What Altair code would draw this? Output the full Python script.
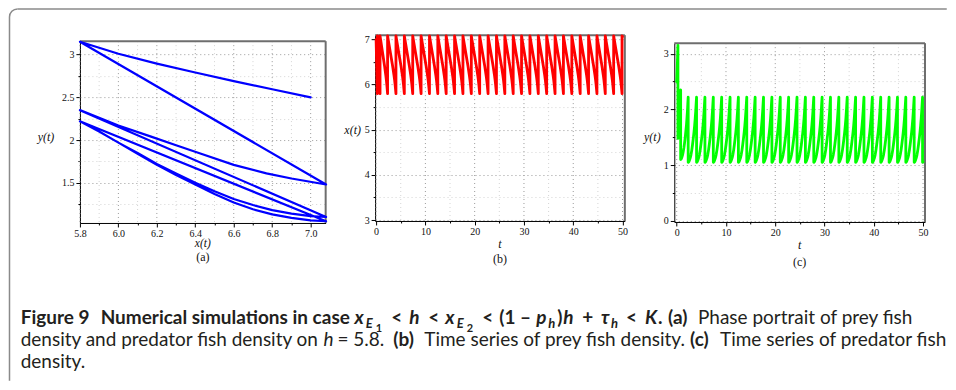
import altair as alt
import pandas as pd

# ---------------- values ----------------
# impulse (jump) times (b) and (c)
jump_times = [0.25, 0.80, 2.33, 4.03, 5.73, 7.43, 9.13, 10.83, 12.52, 14.22, 15.92,
              17.62, 19.32, 21.02, 22.72, 24.42, 26.12, 27.82, 29.51, 31.21, 32.91,
              34.61, 36.31, 38.01, 39.71, 41.41, 43.11, 44.81, 46.50, 48.20, 49.90]
t_end = 50.0

# cycle shapes (x, y) read from the phase portrait (a); f = share of the cycle's time
c0_f = [0.00, 0.18, 0.34, 0.50, 0.65, 0.80, 0.90, 1.00]
c0_x = [7.00, 6.80, 6.60, 6.40, 6.20, 6.00, 5.90, 5.80]
c0_y = [2.50, 2.595, 2.69, 2.79, 2.895, 3.01, 3.08, 3.15]

c1_f = [0.00, 0.15, 0.26, 0.39, 0.52, 0.62, 0.71, 0.83, 0.91, 1.00]
c1_x = [7.08, 6.90, 6.77, 6.60, 6.43, 6.30, 6.17, 6.00, 5.90, 5.80]
c1_y = [1.48, 1.55, 1.61, 1.71, 1.84, 1.94, 2.04, 2.17, 2.26, 2.35]

c2_f = [0.00, 0.07, 0.16, 0.25, 0.34, 0.43, 0.52, 0.61, 0.69, 0.77, 0.84, 0.90, 0.95, 1.00]
c2_x = [7.08, 7.00, 6.90, 6.80, 6.70, 6.60, 6.50, 6.40, 6.30, 6.20, 6.10, 6.00, 5.90, 5.80]
c2_y = [1.10, 1.11, 1.14, 1.18, 1.24, 1.31, 1.40, 1.50, 1.61, 1.72, 1.85, 1.97, 2.10, 2.22]

cs_f = [0.00, 0.07, 0.16, 0.25, 0.34, 0.43, 0.52, 0.61, 0.69, 0.77, 0.84, 0.90, 0.95, 1.00]
cs_x = [7.08, 7.00, 6.90, 6.80, 6.70, 6.60, 6.50, 6.40, 6.30, 6.20, 6.10, 6.00, 5.90, 5.80]
cs_y = [1.05, 1.06, 1.09, 1.13, 1.19, 1.27, 1.37, 1.48, 1.59, 1.71, 1.84, 1.97, 2.10, 2.22]

tail_f = [0.0, 1.0]
tail_x = [7.08, 7.06]
tail_y = [1.05, 1.06]

# tick values
a_xticks = [5.8, 5.9, 6.0, 6.1, 6.2, 6.3, 6.4, 6.5, 6.6, 6.7, 6.8, 6.9, 7.0]
a_yticks = [1.25, 1.5, 1.75, 2.0, 2.25, 2.5, 2.75, 3.0]
t_ticks = [0, 5, 10, 15, 20, 25, 30, 35, 40, 45, 50]
b_yticks = [3, 3.5, 4, 4.5, 5, 5.5, 6, 6.5, 7]
c_yticks = [0, 0.5, 1, 1.5, 2, 2.5, 3]

# ---------------- trajectory table ----------------
starts = [0.0] + jump_times
ends = jump_times + [t_end]
rows = []
for k, (ts, te) in enumerate(zip(starts, ends)):
    if k == 0:
        prof = (c0_f, c0_x, c0_y)
    elif k == 1:
        prof = (c1_f, c1_x, c1_y)
    elif k == 2:
        prof = (c2_f, c2_x, c2_y)
    elif k == len(starts) - 1:
        prof = (tail_f, tail_x, tail_y)
    else:
        prof = (cs_f, cs_x, cs_y)
    for f, xv, yv in zip(*prof):
        rows.append({"i": len(rows), "t": ts + f * (te - ts), "x": xv, "y": yv})
df = pd.DataFrame(rows)

SERIF = "Liberation Serif"
SANS = "Lato"
one = pd.DataFrame({"a": [0]})


def txt(text, x, y, size, style="normal", weight="normal", font=SERIF,
        align="center", baseline="middle", color="#111"):
    return alt.Chart(one).mark_text(
        text=text, font=font, fontSize=size, fontStyle=style, fontWeight=weight,
        align=align, baseline=baseline, color=color
    ).encode(x=alt.value(x), y=alt.value(y))


def make_axis(values, minor, fmt, grid):
    test = f"round(datum.value / {minor}) % 2 == 0"
    kw = dict(values=values, title=None,
              labelExpr=f"{test} ? format(datum.value, '{fmt}') : ''",
              labelFont=SERIF, labelFontSize=10, labelColor="#111", labelPadding=2,
              labelFlush=False, labelOverlap=False,
              domainColor="#000", domainWidth=1, tickColor="#000", tickWidth=1,
              tickSize={"condition": {"test": test, "value": 4}, "value": 2},
              grid=grid)
    if grid:
        kw.update(gridColor={"condition": {"test": test, "value": "#9a9a9a"}, "value": "#d4d4d4"},
                  gridDash=[1, 3], gridWidth=1)
    return alt.Axis(**kw)


def panel(xf, yf, color, sw, xdom, ydom, xvals, xminor, xfmt, yvals, yminor, yfmt,
          W, H, top, texts):
    xs = alt.Scale(domain=xdom, nice=False, zero=False)
    ys = alt.Scale(domain=ydom, nice=False, zero=False, range=[H, top])
    xa = make_axis(xvals, xminor, xfmt, False)
    ya = make_axis(yvals, yminor, yfmt, True)
    majors = [v for v in xvals if round(v / xminor) % 2 == 0]
    minors = [v for v in xvals if round(v / xminor) % 2 == 1]
    g_min = alt.Chart(pd.DataFrame({"v": minors})).mark_rule(
        color="#d4d4d4", strokeDash=[1, 3], strokeWidth=1
    ).encode(x=alt.X("v:Q", scale=xs, axis=xa), y=alt.value(top), y2=alt.value(H))
    g_maj = alt.Chart(pd.DataFrame({"v": majors})).mark_rule(
        color="#9a9a9a", strokeDash=[1, 3], strokeWidth=1
    ).encode(x=alt.X("v:Q", scale=xs, axis=xa), y=alt.value(top), y2=alt.value(H))
    f_top = alt.Chart(one).mark_rule(color="#6e6e6e", strokeWidth=2).encode(
        x=alt.value(0), x2=alt.value(W), y=alt.value(top))
    f_right = alt.Chart(one).mark_rule(color="#6e6e6e", strokeWidth=2).encode(
        x=alt.value(W), y=alt.value(top), y2=alt.value(H))
    line = alt.Chart(df).mark_line(
        color=color, strokeWidth=sw, strokeJoin="round", strokeCap="round"
    ).encode(x=alt.X(f"{xf}:Q", scale=xs, axis=xa),
             y=alt.Y(f"{yf}:Q", scale=ys, axis=ya),
             order="i:Q")
    return alt.layer(g_min, g_maj, f_top, f_right, line, *texts).properties(width=W, height=H)


# ---------------- caption + border (positioned relative to panel (a)) ----------------
OX, OY = 79.25, 35.0
L1, L2, L3 = 324, 346, 368
FS = 19
runs = [
    ("Figure 9", 20, L1, FS, 0, "B"),
    ("Numerical simulations in case", 100, L1, FS, 0, "B"),
    ("x", 354, L1, FS, 0, "BI"), ("E", 365.5, L1, 13, 4, "BI"), ("1", 375.5, L1, 11, 8, "B"),
    ("<", 391, L1, FS, 0, "B"), ("h", 409, L1, FS, 0, "BI"), ("<", 428, L1, FS, 0, "B"),
    ("x", 445, L1, FS, 0, "BI"), ("E", 456.5, L1, 13, 4, "BI"), ("2", 466.5, L1, 11, 8, "B"),
    ("<", 482, L1, FS, 0, "B"), ("(1 –", 499, L1, FS, 0, "B"),
    ("p", 536, L1, FS, 0, "BI"), ("h", 548, L1, 13, 4, "BI"),
    (")", 557, L1, FS, 0, "B"), ("h", 563, L1, FS, 0, "BI"), ("+", 582, L1, FS, 0, "B"),
    ("τ", 601, L1, FS, 0, "BI"), ("h", 611, L1, 13, 4, "BI"),
    ("<", 626, L1, FS, 0, "B"), ("K", 645, L1, FS, 0, "BI"), (".", 658, L1, FS, 0, "B"),
    ("(a)", 668, L1, FS, 0, "B"),
    ("Phase portrait of prey fish", 698, L1, FS, 0, "R"),
    ("density and predator fish density on", 20, L2, FS, 0, "R"),
    ("h", 323, L2, FS, 0, "I"), ("= 5.8.", 337, L2, FS, 0, "R"),
    ("(b)", 393, L2, FS, 0, "B"),
    ("Time series of prey fish density.", 424, L2, FS, 0, "R"),
    ("(c)", 690, L2, FS, 0, "B"),
    ("Time series of predator fish", 720, L2, FS, 0, "R"),
    ("density.", 20, L3, FS, 0, "R"),
]
STY = {"B": ("normal", "bold"), "BI": ("italic", "bold"), "R": ("normal", "normal"),
       "I": ("italic", "normal")}
cap_layers = []
for text, px, py, fs, dy, st in runs:
    s, w = STY[st]
    cap_layers.append(txt(text, px - OX, py + dy - OY, fs, style=s, weight=w, font=SANS,
                          align="left", baseline="alphabetic", color="#231f20"))

BC = "#8a8a8a"
bx, by, br = 8.75 - OX, 8.75 - OY, 8.0
border = [
    alt.Chart(one).mark_rule(color=BC, strokeWidth=1.5).encode(
        x=alt.value(bx + br), x2=alt.value(947 - OX), y=alt.value(by)),
    alt.Chart(one).mark_rule(color=BC, strokeWidth=1.5).encode(
        x=alt.value(bx), y=alt.value(by + br), y2=alt.value(381 - OY)),
    alt.Chart(one).mark_arc(theta=4.7124, theta2=6.2832, innerRadius=br - 0.75,
                            outerRadius=br + 0.75, color=BC).encode(
        x=alt.value(bx + br), y=alt.value(by + br)),
]

A = panel("x", "y", "#0000ff", 2.2, [5.8, 7.078], [1.03, 3.157],
          a_xticks, 0.1, ".1f", a_yticks, 0.25, "~g", 246, 188, 6,
          [txt("y(t)", -34, 102, 12, style="italic"),
           txt("x(t)", 123, 209, 11.5, style="italic"),
           txt("(a)", 123, 222.5, 12)] + cap_layers + border)
B = panel("t", "x", "#ff0000", 2.8, [-0.2, 50.47], [2.98, 7.095],
          t_ticks, 5, "d", b_yticks, 0.5, "d", 250, 186, 0,
          [txt("x(t)", -22.5, 95, 12, style="italic"),
           txt("t", 125, 209, 12, style="italic"),
           txt("(b)", 125, 224, 12)])
C = panel("t", "y", "#00ff00", 2.8, [-0.49, 50.4], [-0.02, 3.19],
          t_ticks, 5, "d", c_yticks, 0.5, "d", 251, 187, 8,
          [txt("y(t)", -22, 102, 12, style="italic"),
           txt("t", 125.5, 210, 12, style="italic"),
           txt("(c)", 125.5, 227, 12)])

chart = alt.hconcat(A, B, C, spacing=49.5, bounds="flush").properties(
    padding=0).configure_view(stroke=None)

chart.save("out.html", embed_options={"renderer": "svg", "actions": False})
